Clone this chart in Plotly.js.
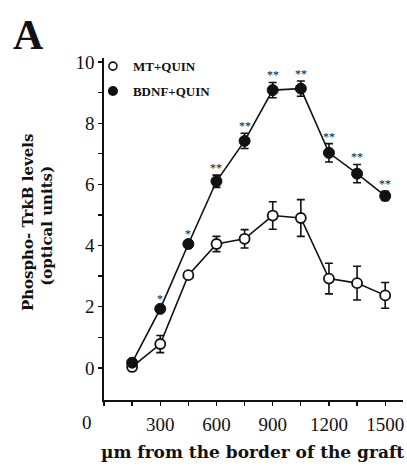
<!DOCTYPE html>
<html>
<head>
<meta charset="utf-8">
<script src="https://cdn.plot.ly/plotly-3.0.1.min.js"></script>
<style>html,body{margin:0;padding:0;background:#fff;}#chart{width:407px;height:466px;}</style>
</head>
<body>
<div id="chart"></div>
<script>
// Data
const distances = [150, 300, 450, 600, 750, 900, 1050, 1200, 1350, 1500];
const mtQuin = [0.03, 0.78, 3.03, 4.05, 4.22, 4.98, 4.9, 2.92, 2.77, 2.37];
const mtQuinErr = [0.1, 0.28, 0.1, 0.25, 0.3, 0.45, 0.6, 0.5, 0.55, 0.42];
const bdnfQuin = [0.17, 1.93, 4.05, 6.1, 7.42, 9.08, 9.13, 7.03, 6.35, 5.62];
const bdnfQuinErr = [0.1, 0.1, 0.1, 0.2, 0.25, 0.25, 0.25, 0.3, 0.3, 0.15];
const significance = ["", "*", "*", "**", "**", "**", "**", "**", "**", "**"];
const xTickVals = [0, 150, 300, 450, 600, 750, 900, 1050, 1200, 1350, 1500];
const xTickText = ["", "", "300", "", "600", "", "900", "", "1200", "", "1500"];
const yTickVals = [0, 1, 2, 3, 4, 5, 6, 7, 8, 9, 10];
const yTickText = ["0", "", "2", "", "4", "", "6", "", "8", "", "10"];
const seriesNames = ["MT+QUIN", "BDNF+QUIN"];

const serif = "Liberation Serif, Times New Roman, serif";
const wideSerif = "DejaVu Serif, Liberation Serif, serif";

const traces = [
  {
    x: distances, y: mtQuin, type: "scatter", mode: "lines+markers",
    showlegend: false,
    line: {color: "#111", width: 1.6},
    marker: {symbol: "circle", size: 10, color: "#fff", line: {color: "#111", width: 1.8}},
    error_y: {type: "data", array: mtQuinErr, visible: true, color: "#111", thickness: 1.6, width: 4}
  },
  {
    x: distances, y: bdnfQuin, type: "scatter", mode: "lines+markers",
    showlegend: false,
    line: {color: "#111", width: 1.6},
    marker: {symbol: "circle", size: 11, color: "#111", line: {color: "#111", width: 1}},
    error_y: {type: "data", array: bdnfQuinErr, visible: true, color: "#111", thickness: 1.6, width: 4}
  },
  {
    x: [null], y: [null], type: "scatter", mode: "markers", name: seriesNames[0], legendgroup: "a",
    marker: {symbol: "circle", size: 8, color: "#fff", line: {color: "#111", width: 1.6}}
  },
  {
    x: [null], y: [null], type: "scatter", mode: "markers", name: seriesNames[1], legendgroup: "b",
    marker: {symbol: "circle", size: 10, color: "#111"}
  }
];

const annotations = [];
distances.forEach((d, i) => {
  if (significance[i]) {
    annotations.push({
      x: d, y: bdnfQuin[i] + bdnfQuinErr[i], xref: "x", yref: "y",
      text: significance[i], showarrow: false, yanchor: "bottom", yshift: -2,
      font: {family: serif, size: 12, color: "#111"}
    });
  }
});
annotations.push(
  {x: 0, y: -1.05, xref: "x", yref: "y", text: "0", showarrow: false,
   xanchor: "right", yanchor: "middle", xshift: -10, yshift: -22,
   font: {family: serif, size: 19, color: "#111"}},
  {x: -0.254, y: 0.5175, xref: "paper", yref: "paper", text: "<b>Phospho- TrkB levels</b>",
   textangle: -90, showarrow: false, xanchor: "center", yanchor: "middle",
   font: {family: wideSerif, size: 15, color: "#111"}},
  {x: -0.191, y: 0.509, xref: "paper", yref: "paper", text: "<b>(optical units)</b>",
   textangle: -90, showarrow: false, xanchor: "center", yanchor: "middle",
   font: {family: wideSerif, size: 15, color: "#111"}},
  {x: 0.498, y: -0.152, xref: "paper", yref: "paper", text: "<b>µm from the border of the graft</b>",
   showarrow: false, xanchor: "center", yanchor: "middle",
   font: {family: wideSerif, size: 17, color: "#111"}},
  {x: -0.254, y: 1.067, xref: "paper", yref: "paper", text: "<b>A</b>",
   showarrow: false, xanchor: "center", yanchor: "middle",
   font: {family: serif, size: 42, color: "#111"}}
);

const layout = {
  width: 407, height: 466,
  margin: {l: 104, r: 4, t: 58, b: 66},
  paper_bgcolor: "#fff", plot_bgcolor: "#fff",
  font: {family: serif, color: "#111"},
  showlegend: true,
  legend: {x: -0.037, y: 1.02, xanchor: "left", yanchor: "top",
           font: {family: serif, size: 13, color: "#111", weight: "bold"},
           bgcolor: "rgba(0,0,0,0)", itemwidth: 30, tracegroupgap: 5, traceorder: "grouped"},
  xaxis: {
    range: [0, 1595], showgrid: false, zeroline: false,
    showline: true, linecolor: "#111", linewidth: 1.6,
    ticks: "outside", ticklen: 4, tickwidth: 1.3, tickcolor: "#111",
    tickmode: "array", tickvals: xTickVals, ticktext: xTickText,
    ticklabelstandoff: 3,
    tickfont: {family: serif, size: 19, color: "#111"}
  },
  yaxis: {
    range: [-1.05, 10.13], showgrid: false, zeroline: false,
    showline: true, linecolor: "#111", linewidth: 1.6,
    ticks: "outside", ticklen: 4, tickwidth: 1.3, tickcolor: "#111",
    tickmode: "array", tickvals: yTickVals, ticktext: yTickText,
    tickfont: {family: serif, size: 19, color: "#111"}
  },
  annotations: annotations
};

Plotly.newPlot("chart", traces, layout, {displayModeBar: false, staticPlot: true});
</script>
</body>
</html>
